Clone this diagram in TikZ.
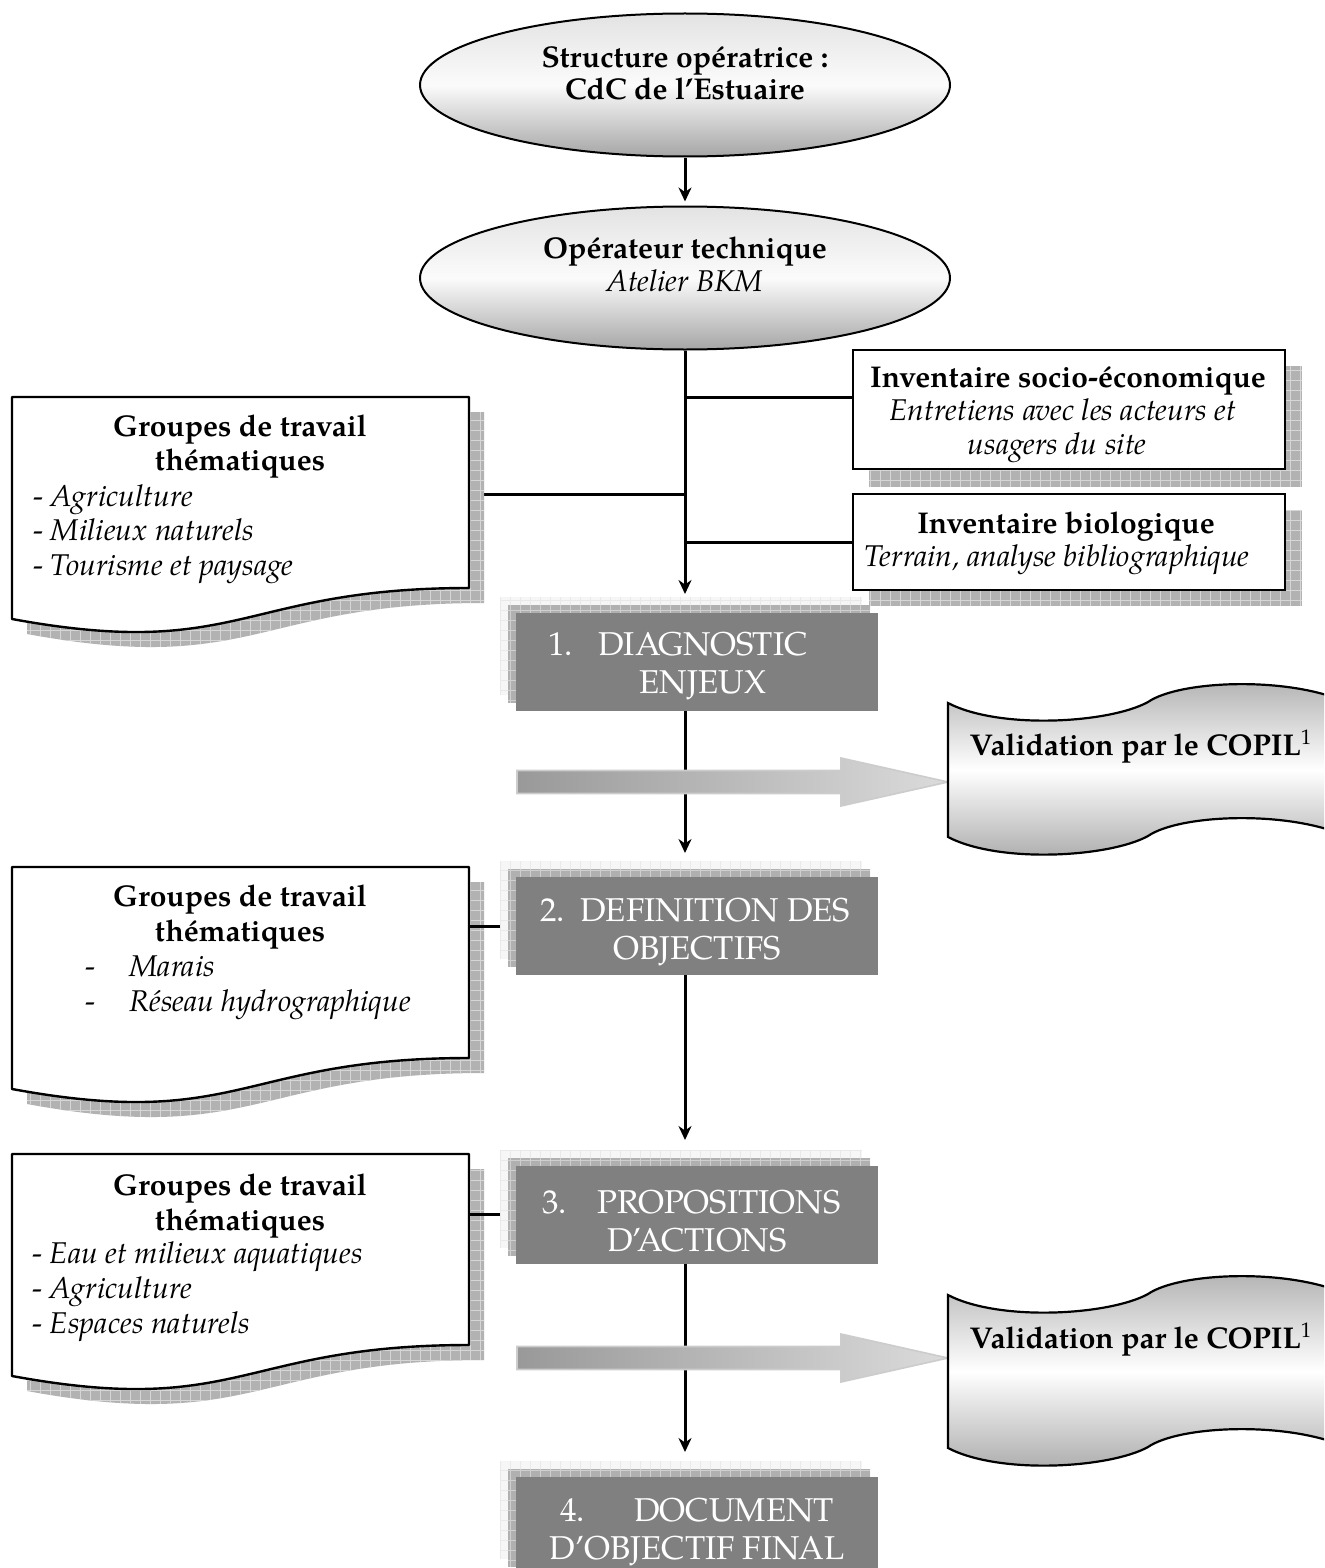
\documentclass[tikz,border=0pt]{standalone}
\usepackage{fontspec}
\setmainfont{TeX Gyre Pagella}
\usetikzlibrary{arrows.meta,shapes.geometric,calc}

\newcommand\gridfill[6]{%
  \fill[#5] ({#1},{#2}) rectangle ({#3},{#4});
  \begin{scope}
    \clip ({#1},{#2}) rectangle ({#3},{#4});
    \draw[#6, line width=0.35pt, step=5pt] ({#1},{#4}) grid ({#3},{#2});
  \end{scope}}

\newcommand\docshape[2]{%
  \begin{scope}
    \clip ({#1+15},{#2+15}) -- ({#1+472},{#2+15}) -- ({#1+472},{#2+206}) .. controls ({#1+243.5},{#2+206}) and ({#1+243.5},{#2+279}) .. ({#1+15},{#2+237}) -- cycle;
    \gridfill{#1+10}{#2+10}{#1+480}{#2+290}{gray!60}{gray!32}
  \end{scope}
  \draw[docline] (#1,#2) -- ({#1+457},{#2}) -- ({#1+457},{#2+191}) .. controls ({#1+228.5},{#2+191}) and ({#1+228.5},{#2+264}) .. ({#1},{#2+222}) -- cycle;}

\newcommand\waveshape[3]{%
  \path[scrollstyle] (#1,#2) .. controls ({#1+52},{#2+27}) and ({#1+162},{#2+20}) .. ({#1+200},{#2-1})
   .. controls ({#1+232},{#2-23}) and ({#1+342},{#2-27}) .. ({#1+400},{#2})
   -- ({#1+400},{#2+#3})
   .. controls ({#1+342},{#2+#3-27}) and ({#1+232},{#2+#3-23}) .. ({#1+200},{#2+#3-1})
   .. controls ({#1+162},{#2+#3+20}) and ({#1+52},{#2+#3+27}) .. ({#1},{#2+#3}) -- cycle;}

\newcommand\gboxlayers[1]{% #1 = top of main box
  \gridfill{500}{#1-16}{862}{#1+82}{gray!7}{gray!17}
  \gridfill{508}{#1-8}{870}{#1+90}{gray!62}{gray!38}}

\begin{document}
\begin{tikzpicture}[x=0.5pt,y=-0.5pt,
  docline/.style={draw, fill=white, line width=1.2pt, line join=round},
  scrollstyle/.style={draw=black, line width=1.1pt, top color=gray!62, bottom color=gray!68, middle color=white},
  ell/.style={ellipse, draw, line width=1pt, minimum width=265pt, minimum height=71.5pt, inner sep=0pt,
              top color=gray!22, bottom color=gray!70, middle color=gray!3},
  gbox/.style={fill=gray, minimum width=181pt, minimum height=49pt, inner sep=0pt},
  ibox/.style={draw, line width=1.2pt, fill=white, minimum width=216pt, inner sep=0pt},
  txt/.style={font=\fontsize{15}{17}\selectfont, inner sep=0pt},
  btxt/.style={font=\fontsize{16.5}{19}\selectfont, text=white, inner sep=0pt},
  conn/.style={line width=1.5pt},
  arr/.style={line width=1.5pt, -{Stealth[length=7pt,width=6.5pt]}},
  garrow/.style={draw=gray!40, line width=0.8pt, left color=gray!80, right color=gray!28}
]
\path[use as bounding box] (0,0) rectangle (1324,1568);
\clip (0,0) rectangle (1324,1568);

% ---------- ellipses ----------
\node[ell] (e1) at (685,85) {};
\node[ell] (e2) at (685,278) {};
\node[txt, anchor=base] (e1a) at (685,68) {\bfseries Structure opératrice :};
\node[txt, anchor=base] (e1b) at (685,100) {\bfseries CdC de l’Estuaire};
\node[txt, anchor=base] (e2a) at (685,258) {\bfseries Opérateur technique};
\node[txt, anchor=base] (e2b) at (685,291) {\itshape Atelier BKM};
\draw[arr, shorten >=2pt] (e1.south) -- (e2.north);

% ---------- coordinates ----------
\coordinate (b1top) at (685,597);
\coordinate (b2top) at (685,861);
\coordinate (b3top) at (685,1150);
\coordinate (b4top) at (685,1461);
\coordinate (d1r) at (469,494);
\coordinate (d2r) at (469,926);
\coordinate (b2l) at (500,926);
\coordinate (d3r) at (469,1214);
\coordinate (b3l) at (500,1214);

% ---------- inventory boxes ----------
\gridfill{869}{366}{1302}{487}{gray!60}{gray!32}
\gridfill{869}{510}{1302}{606}{gray!60}{gray!32}
\node[ibox, minimum height=59.5pt] (soc) at (1069,409.5) {};
\node[ibox, minimum height=48pt] (bio) at (1069,542) {};
\node[txt, anchor=base] (soca) at (1068,387) {\bfseries Inventaire socio-économique};
\node[txt, anchor=base] (socb) at (1063,420) {\itshape Entretiens avec les acteurs et};
\node[txt, anchor=base] (socc) at (1057,454) {\itshape usagers du site};
\node[txt, anchor=base] (bioa) at (1066,533) {\bfseries Inventaire biologique};
\node[txt, anchor=base] (biob) at (1057,566) {\itshape Terrain, analyse bibliographique};

% ---------- trunk and branches ----------
\coordinate (socin) at ($(soc.north west)!0.4!(soc.south west)$);
\draw[arr, shorten >=1.5pt] (e2.south) -- (b1top);
\draw[conn] (socin -| e2.south) -- (socin);
\draw[conn] (bio.west -| e2.south) -- (bio.west);
\draw[conn] (d1r) -- (d1r -| e2.south);

% ---------- documents ----------
\docshape{12}{397}
\docshape{12}{867}
\docshape{12}{1154}
\draw[conn] (d2r) -- (b2l);
\draw[conn] (d3r) -- (b3l);

\node[txt, anchor=base] (d1a) at (240,436) {\bfseries Groupes de travail};
\node[txt, anchor=base] (d1b) at (240,470) {\bfseries thématiques};
\node[txt, anchor=base west] (d1c) at (33,506) {- \textit{Agriculture}};
\node[txt, anchor=base west] (d1d) at (33,540) {- \textit{Milieux naturels}};
\node[txt, anchor=base west] (d1e) at (33,575) {- \textit{Tourisme et paysage}};

\node[txt, anchor=base] (d2a) at (240,906) {\bfseries Groupes de travail};
\node[txt, anchor=base] (d2b) at (240,941) {\bfseries thématiques};
\node[txt, anchor=base west] (d2c) at (85,976) {-};
\node[txt, anchor=base west] (d2d) at (129,976) {\itshape Marais};
\node[txt, anchor=base west] (d2e) at (85,1011) {-};
\node[txt, anchor=base west] (d2f) at (129,1011) {\itshape Réseau hydrographique};

\node[txt, anchor=base] (d3a) at (240,1195) {\bfseries Groupes de travail};
\node[txt, anchor=base] (d3b) at (240,1230) {\bfseries thématiques};
\node[txt, anchor=base west] (d3c) at (32,1263) {- \textit{Eau et milieux aquatiques}};
\node[txt, anchor=base west] (d3d) at (32,1298) {- \textit{Agriculture}};
\node[txt, anchor=base west] (d3e) at (32,1333) {- \textit{Espaces naturels}};

% ---------- gray step boxes ----------
\gboxlayers{613}
\node[gbox] (b1) at (697,662) {};
\gboxlayers{877}
\node[gbox] (b2) at (697,926) {};
\gboxlayers{1166}
\node[gbox] (b3) at (697,1215) {};
\gboxlayers{1477}
\node[gbox] (b4) at (697,1526) {};

\node[btxt, anchor=base west] (b1n) at (548,655) {1.};
\node[btxt, anchor=base west] (b1a) at (598,655) {DIAGNOSTIC};
\node[btxt, anchor=base] (b1b) at (703,693) {ENJEUX};
\node[btxt, anchor=base west] (b2n) at (540,921) {2.};
\node[btxt, anchor=base west] (b2a) at (580,921) {DEFINITION DES};
\node[btxt, anchor=base] (b2b) at (697,959) {OBJECTIFS};
\node[btxt, anchor=base west] (b3n) at (542,1213) {3.};
\node[btxt, anchor=base west] (b3a) at (597,1213) {PROPOSITIONS};
\node[btxt, anchor=base] (b3b) at (697,1251) {D’ACTIONS};
\node[btxt, anchor=base west] (b4n) at (560,1521) {4.};
\node[btxt, anchor=base west] (b4a) at (634,1521) {DOCUMENT};
\node[btxt, anchor=base] (b4b) at (697,1559) {D’OBJECTIF FINAL};

% ---------- vertical arrows between steps ----------
\draw[arr, shorten >=4pt] (b1.south -| e2.south) -- (b2top);
\draw[arr, shorten >=5pt] (b2.south -| e2.south) -- (b3top);
\draw[arr, shorten >=4.5pt] (b3.south -| e2.south) -- (b4top);

% ---------- gradient arrows ----------
\path[garrow] (517,770.5) -- (841,770.5) -- (841,758) -- (948,782) -- (841,806) -- (841,793.5) -- (517,793.5) -- cycle;
\path[garrow] (517,1346.5) -- (841,1346.5) -- (841,1334) -- (948,1358) -- (841,1382) -- (841,1369.5) -- (517,1369.5) -- cycle;

% ---------- validation scrolls ----------
\waveshape{948}{703}{134}
\waveshape{948}{1295}{153}
\node[txt, anchor=base] (v1) at (1141,755) {\bfseries Validation par le COPIL\textsuperscript{\mdseries 1}};
\node[txt, anchor=base] (v2) at (1141,1348) {\bfseries Validation par le COPIL\textsuperscript{\mdseries 1}};
\end{tikzpicture}
\end{document}
